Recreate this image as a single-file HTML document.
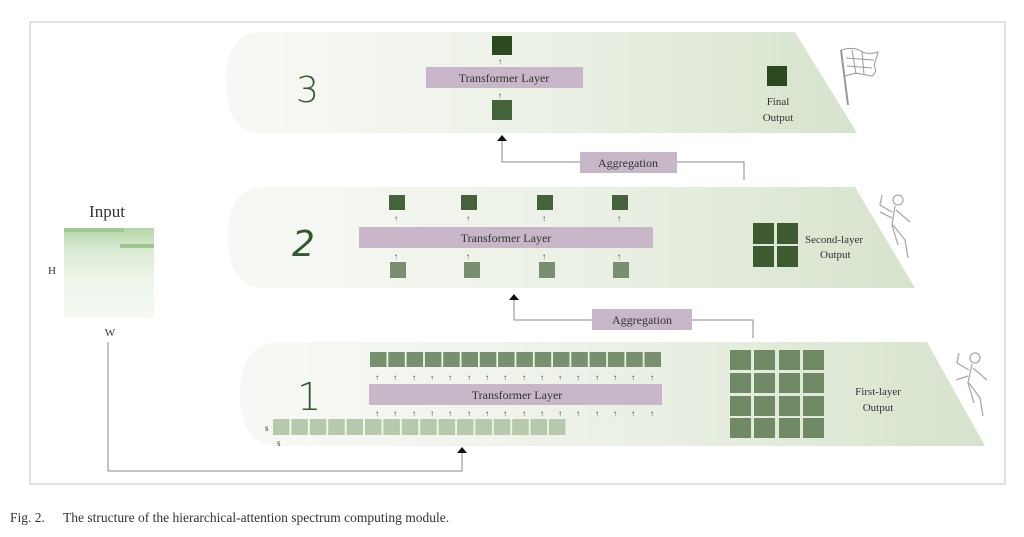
<!DOCTYPE html>
<html><head><meta charset="utf-8"><style>
html,body{margin:0;padding:0;background:#fff;width:1024px;height:537px;overflow:hidden}
svg{display:block}
text{font-family:"Liberation Serif",serif;fill:#333}
</style></head><body>
<svg width="1024" height="537" viewBox="0 0 1024 537" xmlns="http://www.w3.org/2000/svg">
<defs>
<linearGradient id="g" x1="0" x2="1" y1="0" y2="0">
<stop offset="0" stop-color="#f7f8f5"/>
<stop offset="0.15" stop-color="#f5f7f2"/>
<stop offset="0.55" stop-color="#eaf0e4"/>
<stop offset="1" stop-color="#d6e3cc"/>
</linearGradient>
<linearGradient id="hm" x1="0" x2="0" y1="0" y2="1">
<stop offset="0" stop-color="#b5d6a8"/>
<stop offset="0.25" stop-color="#dcecd5"/>
<stop offset="0.6" stop-color="#eef6ea"/>
<stop offset="1" stop-color="#f4f9f2"/>
</linearGradient>
</defs>
<rect x="30" y="22" width="975" height="462" fill="#fff" stroke="#d8d8d8" stroke-width="1.5"/>

<path d="M262,32 L795,32 L857,133 L262,133 Q226,133 226,82 Q226,32 262,32 Z" fill="url(#g)"/>
<path d="M265,187 L855,187 L915,288 L265,288 Q228,288 228,237 Q228,187 265,187 Z" fill="url(#g)"/>
<path d="M280,342 L927,342 L985,446 L280,446 Q240,446 240,394 Q240,342 280,342 Z" fill="url(#g)"/>

<text x="296" y="102" style="font-family:'DejaVu Sans',sans-serif;fill:#2f5a2a;font-weight:200" font-size="36">3</text>
<text x="292" y="256" style="font-family:'DejaVu Sans',sans-serif;fill:#2f5a2a;font-style:italic;font-weight:200" font-size="36">2</text>
<text x="297" y="410" style="font-family:'DejaVu Sans',sans-serif;fill:#2f5a2a;font-weight:200" font-size="38">1</text>

<rect x="492" y="36" width="20" height="19" fill="#2b4a1f"/>
<text x="498" y="64" font-size="8">↑</text>
<rect x="426" y="67" width="157" height="21" fill="#c7b7c9"/>
<text x="504" y="82" font-size="12" text-anchor="middle">Transformer Layer</text>
<text x="498" y="98" font-size="8">↑</text>
<rect x="492" y="100" width="20" height="20" fill="#44633a"/>
<rect x="767" y="66" width="20" height="20" fill="#2b4a1f"/>
<text x="778" y="105" font-size="11" text-anchor="middle">Final</text>
<text x="778" y="121" font-size="11" text-anchor="middle">Output</text>

<g stroke="#999" fill="none" stroke-width="1">
<line x1="841" y1="50" x2="848" y2="105" stroke-width="2"/>
<path d="M841,50 Q855,46 862,52 Q870,55 878,52 L874,66 Q878,72 872,76 Q860,74 856,73 L845,76"/>
<path d="M846,58 L874,60 M847,66 L872,68 M852,50 L856,74 M862,52 L864,74"/>
</g>

<polyline points="744,180 744,162 677,162" fill="none" stroke="#888"/>
<polyline points="580,162 502,162 502,139" fill="none" stroke="#888"/>
<path d="M497,141 L502,135 L507,141 Z" fill="#111"/>
<rect x="580" y="152" width="97" height="21" fill="#c7b7c9"/>
<text x="628" y="167" font-size="12" text-anchor="middle">Aggregation</text>

<g fill="#44633a">
<rect x="389" y="195" width="16" height="15"/><rect x="461" y="195" width="16" height="15"/>
<rect x="537" y="195" width="16" height="15"/><rect x="612" y="195" width="16" height="15"/>
</g>
<g font-size="8"><text x="394" y="221">↑</text><text x="466" y="221">↑</text><text x="542" y="221">↑</text><text x="617" y="221">↑</text>
<text x="394" y="259">↑</text><text x="466" y="259">↑</text><text x="542" y="259">↑</text><text x="617" y="259">↑</text></g>
<rect x="359" y="227" width="294" height="21" fill="#c7b7c9"/>
<text x="506" y="242" font-size="12" text-anchor="middle">Transformer Layer</text>
<g fill="#7a8f6f">
<rect x="390" y="262" width="16" height="16"/><rect x="464" y="262" width="16" height="16"/>
<rect x="539" y="262" width="16" height="16"/><rect x="613" y="262" width="16" height="16"/>
</g>
<g fill="#3d5a30">
<rect x="753" y="223" width="21" height="21"/><rect x="777" y="223" width="21" height="21"/>
<rect x="753" y="246" width="21" height="21"/><rect x="777" y="246" width="21" height="21"/>
</g>
<text x="805" y="243" font-size="11">Second-layer</text>
<text x="820" y="258" font-size="11">Output</text>

<g stroke="#aaa" fill="none" stroke-width="1.3">
<circle cx="898" cy="200" r="5"/><path d="M895,206 L892,225 L898,245 M892,212 L880,205 L882,195 M896,210 L910,222 M893,225 L905,240 L908,258 M880,212 L892,218"/>
</g>

<polyline points="753,338 753,320 692,320" fill="none" stroke="#888"/>
<polyline points="592,320 514,320 514,298" fill="none" stroke="#888"/>
<path d="M509,300 L514,294 L519,300 Z" fill="#111"/>
<rect x="592" y="309" width="100" height="21" fill="#c7b7c9"/>
<text x="642" y="324" font-size="12" text-anchor="middle">Aggregation</text>

<g fill="#77906d">
<rect x="370" y="352" width="16.5" height="15"/><rect x="388.3" y="352" width="16.5" height="15"/><rect x="406.6" y="352" width="16.5" height="15"/><rect x="424.9" y="352" width="16.5" height="15"/>
<rect x="443.2" y="352" width="16.5" height="15"/><rect x="461.5" y="352" width="16.5" height="15"/><rect x="479.8" y="352" width="16.5" height="15"/><rect x="498.1" y="352" width="16.5" height="15"/>
<rect x="516.4" y="352" width="16.5" height="15"/><rect x="534.7" y="352" width="16.5" height="15"/><rect x="553" y="352" width="16.5" height="15"/><rect x="571.3" y="352" width="16.5" height="15"/>
<rect x="589.6" y="352" width="16.5" height="15"/><rect x="607.9" y="352" width="16.5" height="15"/><rect x="626.2" y="352" width="16.5" height="15"/><rect x="644.5" y="352" width="16.5" height="15"/>
</g>
<g font-size="8" fill="#333">
<text x="375" y="380">↑</text><text x="393" y="380">↑</text><text x="412" y="380">↑</text><text x="430" y="380">↑</text><text x="448" y="380">↑</text><text x="467" y="380">↑</text><text x="485" y="380">↑</text><text x="503" y="380">↑</text><text x="522" y="380">↑</text><text x="540" y="380">↑</text><text x="558" y="380">↑</text><text x="576" y="380">↑</text><text x="595" y="380">↑</text><text x="613" y="380">↑</text><text x="631" y="380">↑</text><text x="650" y="380">↑</text>
<text x="375" y="416">↑</text><text x="393" y="416">↑</text><text x="412" y="416">↑</text><text x="430" y="416">↑</text><text x="448" y="416">↑</text><text x="467" y="416">↑</text><text x="485" y="416">↑</text><text x="503" y="416">↑</text><text x="522" y="416">↑</text><text x="540" y="416">↑</text><text x="558" y="416">↑</text><text x="576" y="416">↑</text><text x="595" y="416">↑</text><text x="613" y="416">↑</text><text x="631" y="416">↑</text><text x="650" y="416">↑</text>
</g>
<rect x="369" y="384" width="293" height="21" fill="#c7b7c9"/>
<text x="517" y="399" font-size="12" text-anchor="middle">Transformer Layer</text>
<g fill="#b6c9aa">
<rect x="273" y="419" width="16.5" height="16"/><rect x="291.4" y="419" width="16.5" height="16"/><rect x="309.8" y="419" width="16.5" height="16"/><rect x="328.2" y="419" width="16.5" height="16"/>
<rect x="346.6" y="419" width="16.5" height="16"/><rect x="365" y="419" width="16.5" height="16"/><rect x="383.4" y="419" width="16.5" height="16"/><rect x="401.8" y="419" width="16.5" height="16"/>
<rect x="420.2" y="419" width="16.5" height="16"/><rect x="438.6" y="419" width="16.5" height="16"/><rect x="457" y="419" width="16.5" height="16"/><rect x="475.4" y="419" width="16.5" height="16"/>
<rect x="493.8" y="419" width="16.5" height="16"/><rect x="512.2" y="419" width="16.5" height="16"/><rect x="530.6" y="419" width="16.5" height="16"/><rect x="549" y="419" width="16.5" height="16"/>
</g>
<text x="265" y="431" font-size="9">s</text>
<text x="277" y="446" font-size="9">s</text>

<g fill="#6f8a65">
<rect x="730" y="350" width="21" height="20"/><rect x="754" y="350" width="21" height="20"/><rect x="779" y="350" width="21" height="20"/><rect x="803" y="350" width="21" height="20"/>
<rect x="730" y="373" width="21" height="20"/><rect x="754" y="373" width="21" height="20"/><rect x="779" y="373" width="21" height="20"/><rect x="803" y="373" width="21" height="20"/>
<rect x="730" y="396" width="21" height="20"/><rect x="754" y="396" width="21" height="20"/><rect x="779" y="396" width="21" height="20"/><rect x="803" y="396" width="21" height="20"/>
<rect x="730" y="418" width="21" height="20"/><rect x="754" y="418" width="21" height="20"/><rect x="779" y="418" width="21" height="20"/><rect x="803" y="418" width="21" height="20"/>
</g>
<text x="878" y="395" font-size="11" text-anchor="middle">First-layer</text>
<text x="878" y="411" font-size="11" text-anchor="middle">Output</text>

<g stroke="#aaa" fill="none" stroke-width="1.3">
<circle cx="975" cy="358" r="5"/><path d="M972,364 L968,383 L974,403 M969,370 L957,363 L959,353 M973,368 L987,380 M969,383 L980,398 L983,416 M956,380 L968,376"/>
</g>

<text x="107" y="217" font-size="17" text-anchor="middle">Input</text>
<rect x="64" y="228" width="90" height="90" fill="url(#hm)"/>
<rect x="64" y="228" width="60" height="4" fill="#8fbf80" opacity="0.6"/>
<rect x="120" y="244" width="34" height="4" fill="#7cb26b" opacity="0.6"/>
<text x="52" y="274" font-size="11" text-anchor="middle">H</text>
<text x="110" y="336" font-size="11" text-anchor="middle">W</text>
<polyline points="108,342 108,471 462,471 462,452" fill="none" stroke="#888"/>
<path d="M457,453 L462,447 L467,453 Z" fill="#111"/>

<text x="10" y="522" font-size="13.5">Fig. 2.</text>
<text x="63" y="522" font-size="13.5">The structure of the hierarchical-attention spectrum computing module.</text>
</svg>
</body></html>
